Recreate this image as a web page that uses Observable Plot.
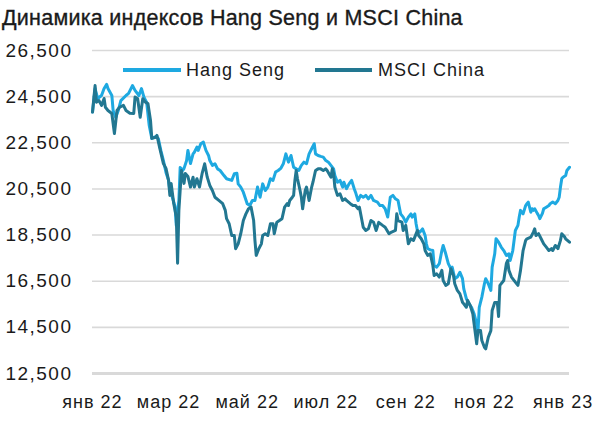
<!DOCTYPE html>
<html><head><meta charset="utf-8">
<script src="https://cdn.jsdelivr.net/npm/d3@7"></script>
<script src="https://cdn.jsdelivr.net/npm/@observablehq/plot@0.6"></script>
<style>
body{margin:0;background:#fff;font-family:"Liberation Sans",Arial,sans-serif;color:#1a1a1a;}
#wrap{position:relative;width:600px;height:427px;overflow:hidden;}
#chart{position:absolute;left:0;top:0;}
#title{position:absolute;left:2px;top:6px;font-size:21.5px;line-height:24px;letter-spacing:0.25px;white-space:nowrap;-webkit-text-stroke:0.35px #1a1a1a;}
.sw{position:absolute;height:3.5px;}
.lt{position:absolute;font-size:18px;line-height:20px;letter-spacing:1px;white-space:nowrap;}
#chart svg text{letter-spacing:1px;}
#chart svg g.yax text{letter-spacing:1.5px;font-size:19px;}
</style></head>
<body>
<div id="wrap">
<div id="chart"></div>
<div id="title">Динамика индексов Hang Seng и MSCI China</div>
<div id="legend"></div>
</div>
<script>
const seriesNames = ["Hang Seng", "MSCI China"];
const seriesColors = ["#1ea9e1", "#227791"];
const yTicks = [12500, 14500, 16500, 18500, 20500, 22500, 24500, 26500];
const xTickDates = ["2022-01-01","2022-03-01","2022-05-01","2022-07-01","2022-09-01","2022-11-01","2023-01-01"];
const xTickLabels = ["янв 22","мар 22","май 22","июл 22","сен 22","ноя 22","янв 23"];

const hangSeng = [["2022-01-01",23830],["2022-01-03",24850],["2022-01-05",24420],["2022-01-08",24550],["2022-01-10",24850],["2022-01-12",25030],["2022-01-13",24850],["2022-01-16",24550],["2022-01-17",23900],["2022-01-19",23600],["2022-01-21",23900],["2022-01-23",24330],["2022-01-27",24550],["2022-01-29",24640],["2022-02-01",24980],["2022-02-03",24770],["2022-02-06",24550],["2022-02-08",24850],["2022-02-10",24460],["2022-02-12",24250],["2022-02-14",23250],["2022-02-16",22690],["2022-02-19",22770],["2022-02-21",22690],["2022-02-23",22170],["2022-02-25",21730],["2022-02-27",21210],["2022-03-01",20870],["2022-03-02",20430],["2022-03-04",20130],["2022-03-06",19740],["2022-03-07",18920],["2022-03-09",20000],["2022-03-10",21430],["2022-03-12",21300],["2022-03-13",21390],["2022-03-15",21730],["2022-03-16",22170],["2022-03-18",21600],["2022-03-20",22020],["2022-03-21",22090],["2022-03-23",22310],["2022-03-24",22170],["2022-03-26",22460],["2022-03-28",22530],["2022-03-30",22170],["2022-04-01",21950],["2022-04-02",21730],["2022-04-04",21520],["2022-04-06",21590],["2022-04-08",21370],["2022-04-10",21300],["2022-04-13",21080],["2022-04-15",20940],["2022-04-19",20870],["2022-04-21",21160],["2022-04-23",21180],["2022-04-24",20720],["2022-04-26",20580],["2022-04-28",20360],["2022-05-01",19860],["2022-05-03",19780],["2022-05-05",20000],["2022-05-07",20000],["2022-05-09",20580],["2022-05-11",20140],["2022-05-13",20720],["2022-05-15",20430],["2022-05-17",20580],["2022-05-19",20940],["2022-05-21",20870],["2022-05-23",21230],["2022-05-25",21300],["2022-05-27",21390],["2022-05-29",21590],["2022-05-31",22020],["2022-06-02",21660],["2022-06-04",21950],["2022-06-06",21440],["2022-06-08",21370],["2022-06-10",21300],["2022-06-12",21520],["2022-06-14",21660],["2022-06-16",21590],["2022-06-18",22020],["2022-06-20",22240],["2022-06-22",22460],["2022-06-23",22020],["2022-06-25",21950],["2022-06-27",21910],["2022-06-29",21880],["2022-07-01",21730],["2022-07-03",21660],["2022-07-07",21370],["2022-07-08",21080],["2022-07-10",20790],["2022-07-12",20870],["2022-07-14",20580],["2022-07-15",20790],["2022-07-17",20510],["2022-07-19",20720],["2022-07-21",20870],["2022-07-23",20510],["2022-07-24",20360],["2022-07-26",20000],["2022-07-28",20220],["2022-07-30",20140],["2022-08-01",20220],["2022-08-03",20070],["2022-08-05",20220],["2022-08-07",20000],["2022-08-10",19930],["2022-08-12",19780],["2022-08-14",19780],["2022-08-16",19640],["2022-08-18",19280],["2022-08-20",20140],["2022-08-22",20220],["2022-08-24",20070],["2022-08-26",20000],["2022-08-28",19420],["2022-08-30",19280],["2022-09-01",19060],["2022-09-03",19280],["2022-09-05",19420],["2022-09-06",19280],["2022-09-08",19420],["2022-09-09",18990],["2022-09-10",18700],["2022-09-12",18630],["2022-09-14",18770],["2022-09-16",18480],["2022-09-17",18120],["2022-09-18",17910],["2022-09-20",17860],["2022-09-22",17830],["2022-09-23",17180],["2022-09-25",17110],["2022-09-27",17260],["2022-09-29",17830],["2022-09-30",18050],["2022-10-02",17690],["2022-10-04",17260],["2022-10-06",17040],["2022-10-07",17110],["2022-10-09",16610],["2022-10-11",16680],["2022-10-13",16890],["2022-10-15",16610],["2022-10-16",16170],["2022-10-18",15740],["2022-10-20",15520],["2022-10-22",15370],["2022-10-24",15090],["2022-10-26",14650],["2022-10-27",14300],["2022-10-28",15370],["2022-10-30",15810],["2022-11-01",16390],["2022-11-02",16610],["2022-11-04",16390],["2022-11-06",16100],["2022-11-07",17110],["2022-11-09",17690],["2022-11-10",18340],["2022-11-12",18190],["2022-11-14",17980],["2022-11-16",17830],["2022-11-18",17620],["2022-11-20",17690],["2022-11-21",17400],["2022-11-23",17830],["2022-11-25",18700],["2022-11-27",18920],["2022-11-28",19280],["2022-11-29",19570],["2022-12-01",19420],["2022-12-03",19780],["2022-12-04",19860],["2022-12-05",19930],["2022-12-07",19490],["2022-12-08",19640],["2022-12-09",19570],["2022-12-10",19640],["2022-12-12",19440],["2022-12-13",19350],["2022-12-14",19210],["2022-12-16",19440],["2022-12-17",19640],["2022-12-19",19710],["2022-12-21",19780],["2022-12-22",19860],["2022-12-24",19930],["2022-12-26",19860],["2022-12-28",20000],["2022-12-29",20140],["2022-12-30",20580],["2022-12-31",20940],["2023-01-01",21010],["2023-01-03",21080],["2023-01-04",21300],["2023-01-06",21440]];

const msciChina = [["2022-01-01",23830],["2022-01-03",24980],["2022-01-04",24260],["2022-01-06",24330],["2022-01-08",24120],["2022-01-10",24420],["2022-01-11",24040],["2022-01-13",23900],["2022-01-16",23770],["2022-01-18",22900],["2022-01-20",23900],["2022-01-22",24040],["2022-01-25",24120],["2022-01-27",23900],["2022-01-30",23780],["2022-02-02",23770],["2022-02-03",24480],["2022-02-05",24420],["2022-02-07",23610],["2022-02-09",24410],["2022-02-11",24260],["2022-02-13",24200],["2022-02-15",23470],["2022-02-16",22690],["2022-02-19",22740],["2022-02-20",22820],["2022-02-22",22310],["2022-02-25",21600],["2022-02-27",21390],["2022-03-01",20870],["2022-03-02",20220],["2022-03-03",20740],["2022-03-05",19870],["2022-03-07",19280],["2022-03-08",17280],["2022-03-09",19570],["2022-03-11",21300],["2022-03-13",20740],["2022-03-14",21170],["2022-03-16",21040],["2022-03-18",20580],["2022-03-20",21010],["2022-03-21",20580],["2022-03-23",20940],["2022-03-25",20580],["2022-03-27",21160],["2022-03-29",21590],["2022-03-31",21010],["2022-04-02",20650],["2022-04-04",20430],["2022-04-06",20140],["2022-04-09",20000],["2022-04-12",19860],["2022-04-14",19570],["2022-04-15",19210],["2022-04-17",18990],["2022-04-19",18480],["2022-04-21",18480],["2022-04-22",17910],["2022-04-24",18120],["2022-04-26",18560],["2022-04-28",19130],["2022-04-30",19420],["2022-05-02",19640],["2022-05-04",19710],["2022-05-06",19130],["2022-05-07",18270],["2022-05-08",17620],["2022-05-10",17910],["2022-05-12",18120],["2022-05-13",18480],["2022-05-15",18560],["2022-05-17",18480],["2022-05-19",18990],["2022-05-21",18990],["2022-05-22",18560],["2022-05-24",19060],["2022-05-26",19130],["2022-05-28",19210],["2022-05-30",19710],["2022-06-01",19860],["2022-06-02",19780],["2022-06-03",20000],["2022-06-05",20140],["2022-06-06",20220],["2022-06-07",20870],["2022-06-08",21300],["2022-06-09",20940],["2022-06-11",20430],["2022-06-12",20140],["2022-06-13",19640],["2022-06-15",20430],["2022-06-16",20580],["2022-06-18",20000],["2022-06-20",20580],["2022-06-21",20790],["2022-06-23",21300],["2022-06-25",21370],["2022-06-27",21370],["2022-06-29",21300],["2022-07-01",21370],["2022-07-02",21300],["2022-07-05",21010],["2022-07-06",21370],["2022-07-07",21170],["2022-07-08",20580],["2022-07-10",20220],["2022-07-12",20290],["2022-07-14",20000],["2022-07-16",20070],["2022-07-17",20000],["2022-07-20",19860],["2022-07-22",19780],["2022-07-24",19780],["2022-07-26",19640],["2022-07-27",19710],["2022-07-29",19130],["2022-07-30",18840],["2022-08-01",18700],["2022-08-03",18770],["2022-08-05",19130],["2022-08-07",19060],["2022-08-09",18700],["2022-08-11",19050],["2022-08-14",18920],["2022-08-16",18840],["2022-08-19",18560],["2022-08-21",18630],["2022-08-24",18700],["2022-08-25",19420],["2022-08-26",19130],["2022-08-29",19060],["2022-08-30",18700],["2022-09-01",18920],["2022-09-03",18120],["2022-09-05",18340],["2022-09-07",18270],["2022-09-08",18410],["2022-09-10",18700],["2022-09-11",18480],["2022-09-13",18340],["2022-09-15",18120],["2022-09-16",17830],["2022-09-18",17620],["2022-09-20",17690],["2022-09-22",17180],["2022-09-23",16750],["2022-09-25",16820],["2022-09-27",16680],["2022-09-29",16970],["2022-09-30",16530],["2022-10-02",16320],["2022-10-04",16390],["2022-10-06",17040],["2022-10-08",16750],["2022-10-09",16390],["2022-10-11",16100],["2022-10-13",15950],["2022-10-15",15590],["2022-10-16",15520],["2022-10-18",15370],["2022-10-19",15670],["2022-10-21",15450],["2022-10-23",15090],["2022-10-24",14650],["2022-10-26",13790],["2022-10-27",14360],["2022-10-29",14360],["2022-10-30",13930],["2022-11-01",13640],["2022-11-02",13570],["2022-11-04",14070],["2022-11-06",14360],["2022-11-07",15230],["2022-11-09",15580],["2022-11-11",15580],["2022-11-12",14970],["2022-11-13",16320],["2022-11-16",16530],["2022-11-18",17260],["2022-11-19",17400],["2022-11-20",16970],["2022-11-22",16680],["2022-11-25",16460],["2022-11-27",16320],["2022-11-29",16970],["2022-11-30",17400],["2022-12-01",17830],["2022-12-03",18270],["2022-12-04",18340],["2022-12-07",18410],["2022-12-09",18630],["2022-12-10",18770],["2022-12-11",18480],["2022-12-13",18560],["2022-12-15",18340],["2022-12-17",18120],["2022-12-19",17980],["2022-12-21",17830],["2022-12-23",17910],["2022-12-24",17830],["2022-12-26",18050],["2022-12-28",17910],["2022-12-30",18270],["2022-12-31",18560],["2023-01-02",18440],["2023-01-03",18340],["2023-01-06",18190]];

const toRows = (arr, name) => arr.map(([d, v]) => ({date: new Date(d), value: v, series: name}));
const hsRows = toRows(hangSeng, seriesNames[0]);
const msRows = toRows(msciChina, seriesNames[1]);
const tickDates = xTickDates.map(d => new Date(d));
const labelMap = new Map(tickDates.map((d, i) => [+d, xTickLabels[i]]));
const font = '"Liberation Sans", Arial, sans-serif';

const chart = Plot.plot({
  width: 600,
  height: 427,
  marginLeft: 92,
  marginRight: 31,
  marginTop: 50,
  marginBottom: 54,
  style: {fontFamily: font, fontSize: "18px", color: "#1a1a1a", background: "transparent"},
  x: {type: "utc", domain: [new Date("2022-01-01"), new Date("2023-01-06")]},
  y: {domain: [12500, 26500]},
  marks: [
    Plot.gridY(yTicks, {stroke: "#d9d9d9", strokeOpacity: 1, strokeWidth: 1.6}),
    Plot.ruleY([12500], {stroke: "#d9d9d9", strokeWidth: 3.2}),
    Plot.axisY(yTicks, {tickSize: 0, tickPadding: 20, tickFormat: d3.format(","), label: null, fill: "#1a1a1a", className: "yax"}),
    Plot.axisX(tickDates, {tickSize: 0, tickPadding: 22, tickFormat: d => labelMap.get(+d), label: null, fill: "#1a1a1a"}),
    Plot.lineY(hsRows, {x: "date", y: "value", stroke: seriesColors[0], strokeWidth: 3, strokeLinejoin: "round"}),
    Plot.lineY(msRows, {x: "date", y: "value", stroke: seriesColors[1], strokeWidth: 3, strokeLinejoin: "round"})
  ]
});
document.getElementById("chart").appendChild(chart);

const legendItems = [
  {sw: 123, w: 58, tx: 186},
  {sw: 315, w: 57, tx: 378}
];
const lg = document.getElementById("legend");
seriesNames.forEach((name, i) => {
  const s = document.createElement("div");
  s.className = "sw";
  s.style.left = legendItems[i].sw + "px";
  s.style.top = "68.2px";
  s.style.width = legendItems[i].w + "px";
  s.style.background = seriesColors[i];
  lg.appendChild(s);
  const t = document.createElement("div");
  t.className = "lt";
  t.style.left = legendItems[i].tx + "px";
  t.style.top = "60px";
  t.textContent = name;
  lg.appendChild(t);
});
</script>
</body></html>
